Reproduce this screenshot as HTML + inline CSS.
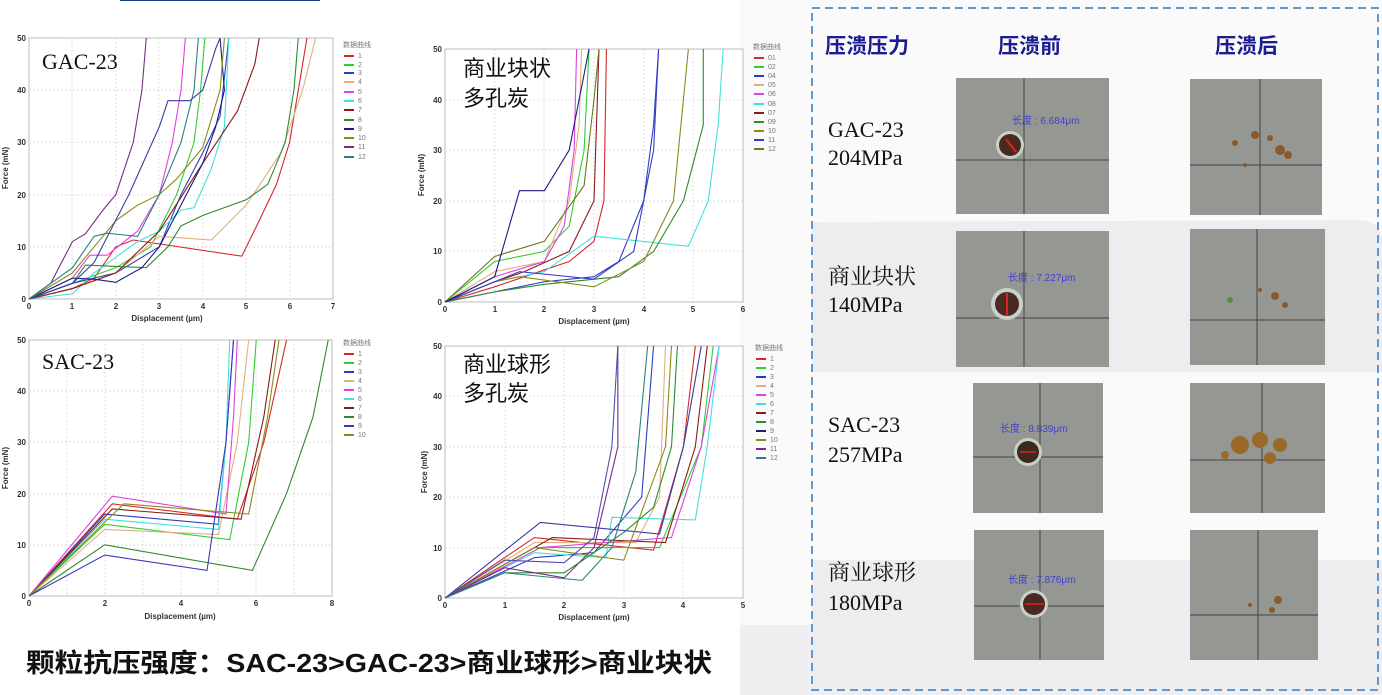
<!DOCTYPE html>
<html><head><meta charset="utf-8"><style>
body{margin:0;width:1382px;height:695px;overflow:hidden;background:#fff;font-family:"Liberation Sans","Noto Sans CJK SC",sans-serif}
svg{position:absolute;left:0;top:0}
.t{font-family:"Liberation Sans",sans-serif;font-size:8px;font-weight:bold;fill:#333}
.lg{font-family:"Liberation Sans","Noto Sans CJK SC",sans-serif;font-size:7px;fill:#777}
.g{stroke:#ddd;stroke-width:1;stroke-dasharray:2,2}
polyline{fill:none;stroke-width:1.1;vector-effect:non-scaling-stroke}
.hd{font-family:"Liberation Sans","Noto Sans CJK SC",sans-serif;font-size:21px;font-weight:bold;fill:#1c1c90}
.lb{font-family:"Liberation Serif","Noto Serif CJK SC",serif;font-size:22px;fill:#111}
</style></head><body>
<svg width="1382" height="695" viewBox="0 0 1382 695">
<rect x="740" y="0" width="642" height="695" fill="#fafafb"/>
<path d="M740,625 L1382,625 L1382,695 L740,695Z" fill="#efeff1"/>
<path d="M812,222 L1360,220 Q1382,222 1382,240 L1382,372 L812,372Z" fill="#ededef"/>
<path d="M812,560 L1382,560 L1382,690 L812,690Z" fill="#ededef"/>
<rect x="812" y="8" width="566" height="682" fill="none" stroke="#5b9bd5" stroke-width="2" stroke-dasharray="8,5"/>
<line x1="120" y1="0" x2="320" y2="0" stroke="#1c3c80" stroke-width="2"/>
<text class="hd" x="825" y="53">压溃压力</text>
<text class="hd" x="998" y="53">压溃前</text>
<text class="hd" x="1215" y="53">压溃后</text>
<text class="lb" x="828" y="137">GAC-23</text><text class="lb" x="828" y="165">204MPa</text>
<text class="lb" x="828" y="284">商业块状</text><text class="lb" x="828" y="312">140MPa</text>
<text class="lb" x="828" y="432">SAC-23</text><text class="lb" x="828" y="462">257MPa</text>
<text class="lb" x="828" y="580">商业球形</text><text class="lb" x="828" y="610">180MPa</text>
<g>
<rect x="956" y="78" width="153" height="136" fill="#959892"/><line x1="1024" y1="78" x2="1024" y2="214" stroke="#444"/><line x1="956" y1="160" x2="1109" y2="160" stroke="#444"/>
<circle cx="1010" cy="145" r="14" fill="#c8d0c8"/><circle cx="1010" cy="145" r="11" fill="#4a2a20"/><line x1="1006" y1="139" x2="1016" y2="152" stroke="#e02020" stroke-width="2"/>
<text x="1012" y="124" font-size="10" fill="#4040d0">长度 : 6.684μm</text>
<rect x="1190" y="79" width="132" height="136" fill="#959892"/><line x1="1260" y1="79" x2="1260" y2="215" stroke="#444"/><line x1="1190" y1="165" x2="1322" y2="165" stroke="#444"/>
<g fill="#8a5a2a"><circle cx="1280" cy="150" r="5"/><circle cx="1288" cy="155" r="4"/><circle cx="1255" cy="135" r="4"/><circle cx="1235" cy="143" r="3"/><circle cx="1270" cy="138" r="3"/><circle cx="1245" cy="165" r="2"/></g>
<rect x="956" y="231" width="153" height="136" fill="#959892"/><line x1="1024" y1="231" x2="1024" y2="367" stroke="#444"/><line x1="956" y1="318" x2="1109" y2="318" stroke="#444"/>
<circle cx="1007" cy="304" r="16" fill="#c8d0c8"/><circle cx="1007" cy="304" r="12" fill="#4a2a20"/><line x1="1007" y1="293" x2="1007" y2="316" stroke="#e02020" stroke-width="2"/>
<text x="1008" y="281" font-size="10" fill="#4040d0">长度 : 7.227μm</text>
<rect x="1190" y="229" width="135" height="136" fill="#959892"/><line x1="1257" y1="229" x2="1257" y2="365" stroke="#444"/><line x1="1190" y1="320" x2="1325" y2="320" stroke="#444"/>
<g fill="#8a5a2a"><circle cx="1275" cy="296" r="4"/><circle cx="1285" cy="305" r="3"/><circle cx="1230" cy="300" r="3" fill="#5a8a4a"/><circle cx="1260" cy="290" r="2"/></g>
<rect x="973" y="383" width="130" height="130" fill="#959892"/><line x1="1040" y1="383" x2="1040" y2="513" stroke="#444"/><line x1="973" y1="457" x2="1103" y2="457" stroke="#444"/>
<circle cx="1028" cy="452" r="14" fill="#c8d0c8"/><circle cx="1028" cy="452" r="11" fill="#3a2a20"/><line x1="1020" y1="452" x2="1036" y2="452" stroke="#e02020" stroke-width="1.5"/>
<text x="1000" y="432" font-size="10" fill="#4040d0">长度 : 8.839μm</text>
<rect x="1190" y="383" width="135" height="130" fill="#959892"/><line x1="1262" y1="383" x2="1262" y2="513" stroke="#444"/><line x1="1190" y1="460" x2="1325" y2="460" stroke="#444"/>
<g fill="#9a6a2a"><circle cx="1240" cy="445" r="9"/><circle cx="1260" cy="440" r="8"/><circle cx="1280" cy="445" r="7"/><circle cx="1270" cy="458" r="6"/><circle cx="1225" cy="455" r="4"/></g>
<rect x="974" y="530" width="130" height="130" fill="#959892"/><line x1="1040" y1="530" x2="1040" y2="660" stroke="#444"/><line x1="974" y1="606" x2="1104" y2="606" stroke="#444"/>
<circle cx="1034" cy="604" r="14" fill="#c8d0c8"/><circle cx="1034" cy="604" r="11" fill="#4a2a20"/><line x1="1025" y1="604" x2="1044" y2="604" stroke="#e02020" stroke-width="1.5"/>
<text x="1008" y="583" font-size="10" fill="#4040d0">长度 : 7.876μm</text>
<rect x="1190" y="530" width="128" height="130" fill="#959892"/><line x1="1258" y1="530" x2="1258" y2="660" stroke="#444"/><line x1="1190" y1="615" x2="1318" y2="615" stroke="#444"/>
<g fill="#8a5a2a"><circle cx="1278" cy="600" r="4"/><circle cx="1272" cy="610" r="3"/><circle cx="1250" cy="605" r="2"/></g>
</g>

<g>
<rect x="29" y="38" width="304" height="261" fill="#fff" stroke="#bbb"/>
<g class="g"><line x1="72" y1="38" x2="72" y2="299"/><line x1="116" y1="38" x2="116" y2="299"/><line x1="159" y1="38" x2="159" y2="299"/><line x1="203" y1="38" x2="203" y2="299"/><line x1="246" y1="38" x2="246" y2="299"/><line x1="290" y1="38" x2="290" y2="299"/>
<line x1="29" y1="90" x2="333" y2="90"/><line x1="29" y1="142" x2="333" y2="142"/><line x1="29" y1="195" x2="333" y2="195"/><line x1="29" y1="247" x2="333" y2="247"/></g>
<g class="t" text-anchor="end"><text x="26" y="41">50</text><text x="26" y="93">40</text><text x="26" y="145">30</text><text x="26" y="198">20</text><text x="26" y="250">10</text><text x="26" y="302">0</text></g>
<g class="t" text-anchor="middle"><text x="29" y="309">0</text><text x="72" y="309">1</text><text x="116" y="309">2</text><text x="159" y="309">3</text><text x="203" y="309">4</text><text x="246" y="309">5</text><text x="290" y="309">6</text><text x="333" y="309">7</text>
<text x="167" y="321">Displacement (µm)</text><text transform="translate(8,168) rotate(-90)">Force (mN)</text></g>
<text x="42" y="69" font-family="Liberation Serif,serif" font-size="22" fill="#111">GAC-23</text>
<g transform="translate(29,299) scale(43.43,-5.22)">
<polyline stroke="#d62828" points="0,0 1,2 1.5,4 2,10 2.4,11.3 4.9,8.2 5.3,15 5.7,22 6,30 6.2,40 6.4,50"/>
<polyline stroke="#33cc33" points="0,0 1,3 2,6 2.8,10 3.4,20 3.8,30 3.95,40 4.05,50"/>
<polyline stroke="#2a3fbf" points="0,0 1,3 2,5 3,10 3.5,20 4,28 4.4,35 4.6,50"/>
<polyline stroke="#e0b080" points="0,0 1,2 2,5 3,12 4.2,11.3 5,18 5.8,28 6.3,40 6.6,50"/>
<polyline stroke="#e040e0" points="0,0 1,4 1.4,8.4 1.8,8.4 2.5,13 3,20 3.3,30 3.5,40 3.6,50"/>
<polyline stroke="#40e0e0" points="0,0 1,1 1.5,5 2,8 2.5,11 3,13 3.5,17 3.8,17.5 4.2,25 4.5,33 4.6,50"/>
<polyline stroke="#8b1a1a" points="0,0 1,2 2,5 3,13 4,26 4.8,36 5.2,45 5.3,50"/>
<polyline stroke="#2e8b2e" points="0,0 1,3 1.3,6.5 2.7,6 3.2,10 3.5,14 4,16 5,19 5.5,22 5.9,30 6.1,40 6.2,50"/>
<polyline stroke="#1a1a80" points="0,0 1,4 1.5,3.8 2,3.2 2.6,6 3,10 3.5,18 4,26 4.3,33 4.5,40 4.4,50"/>
<polyline stroke="#8b8b1a" points="0,0 1,5 1.5,10 2,15 2.5,18 3,20 3.4,23 4,29 4.4,40 4.5,50"/>
<polyline stroke="#7a2a8a" points="0,0 0.5,3 1,11 1.3,12.5 1.7,17 2,20 2.4,30 2.6,40 2.7,50"/>
<polyline stroke="#3a3aa0" points="0,0 1,3 1.5,7 2.3,20 3,33 3.2,38 3.7,38 4,40 4.3,48 4.4,50"/>
<polyline stroke="#2a8080" points="0,0 1,6 1.5,12 1.8,12.6 2.5,12 3,20 3.5,30 3.8,40 3.9,50"/>
</g>
<g class="lg"><text x="343" y="47">数据曲线</text>
<text x="358" y="58">1</text><text x="358" y="67">2</text><text x="358" y="75">3</text><text x="358" y="84">4</text><text x="358" y="94">5</text><text x="358" y="103">6</text><text x="358" y="112">7</text><text x="358" y="122">8</text><text x="358" y="131">9</text><text x="358" y="140">10</text><text x="358" y="149">11</text><text x="358" y="159">12</text></g>
<g stroke-width="2"><line x1="344" y1="56" x2="354" y2="56" stroke="#d62828"/><line x1="344" y1="65" x2="354" y2="65" stroke="#33cc33"/><line x1="344" y1="73" x2="354" y2="73" stroke="#2a3fbf"/><line x1="344" y1="82" x2="354" y2="82" stroke="#e0b080"/><line x1="344" y1="92" x2="354" y2="92" stroke="#e040e0"/><line x1="344" y1="101" x2="354" y2="101" stroke="#40e0e0"/><line x1="344" y1="110" x2="354" y2="110" stroke="#8b1a1a"/><line x1="344" y1="120" x2="354" y2="120" stroke="#2e8b2e"/><line x1="344" y1="129" x2="354" y2="129" stroke="#1a1a80"/><line x1="344" y1="138" x2="354" y2="138" stroke="#8b8b1a"/><line x1="344" y1="147" x2="354" y2="147" stroke="#7a2a8a"/><line x1="344" y1="157" x2="354" y2="157" stroke="#2a8080"/></g>
</g>

<g>
<rect x="445" y="49" width="298" height="253" fill="#fff" stroke="#bbb"/>
<g class="g"><line x1="495" y1="49" x2="495" y2="302"/><line x1="544" y1="49" x2="544" y2="302"/><line x1="594" y1="49" x2="594" y2="302"/><line x1="644" y1="49" x2="644" y2="302"/><line x1="693" y1="49" x2="693" y2="302"/>
<line x1="445" y1="100" x2="743" y2="100"/><line x1="445" y1="150" x2="743" y2="150"/><line x1="445" y1="201" x2="743" y2="201"/><line x1="445" y1="251" x2="743" y2="251"/></g>
<g class="t" text-anchor="end"><text x="442" y="52">50</text><text x="442" y="103">40</text><text x="442" y="153">30</text><text x="442" y="204">20</text><text x="442" y="254">10</text><text x="442" y="305">0</text></g>
<g class="t" text-anchor="middle"><text x="445" y="312">0</text><text x="495" y="312">1</text><text x="544" y="312">2</text><text x="594" y="312">3</text><text x="644" y="312">4</text><text x="693" y="312">5</text><text x="743" y="312">6</text>
<text x="594" y="324">Displacement (µm)</text><text transform="translate(424,175) rotate(-90)">Force (mN)</text></g>
<text x="463" y="76" font-size="22" fill="#111">商业块状</text><text x="463" y="106" font-size="22" fill="#111">多孔炭</text>
<g transform="translate(445,302) scale(49.67,-5.06)">
<polyline stroke="#d62828" points="0,0 1,3 1.6,5 2.5,8 3,12 3.2,20 3.25,50"/>
<polyline stroke="#33cc33" points="0,0 1,8 2,10 2.5,15 2.8,30 2.9,50"/>
<polyline stroke="#2a3fbf" points="0,0 1,2 2,4 3,5 3.5,8 4,20 4.2,35 4.3,50"/>
<polyline stroke="#e0b080" points="0,0 1,6 2,8 2.5,20 2.7,35 2.75,50"/>
<polyline stroke="#e040e0" points="0,0 1,5 2,8 2.4,15 2.6,30 2.65,50"/>
<polyline stroke="#40e0e0" points="0,0 1,4 2,6 3,13 4.9,11 5.3,20 5.5,35 5.6,50"/>
<polyline stroke="#8b1a1a" points="0,0 1,4 1.6,6 2.5,10 3,20 3.1,50"/>
<polyline stroke="#2e8b2e" points="0,0 1,2 2,3.5 3.5,5 4.2,10 4.8,20 5.2,35 5.2,50"/>
<polyline stroke="#8b8b1a" points="0,0 1,4 1.5,5 3,3 4,8 4.6,20 4.9,50"/>
<polyline stroke="#3a3ac0" points="0,0 1,4 1.5,6 3,4.5 3.8,10 4.2,30 4.3,50"/>
<polyline stroke="#6a7a1a" points="0,0 1,9 2,12 2.8,23 3,40 3.1,50"/>
<polyline stroke="#1a1a80" points="0,0 1,5 1.5,22 2,22 2.5,30 2.8,45 2.9,50"/>
</g>
<g class="lg"><text x="753" y="49">数据曲线</text>
<text x="768" y="60">01</text><text x="768" y="69">02</text><text x="768" y="78">04</text><text x="768" y="87">05</text><text x="768" y="96">06</text><text x="768" y="106">08</text><text x="768" y="115">07</text><text x="768" y="124">09</text><text x="768" y="133">10</text><text x="768" y="142">11</text><text x="768" y="151">12</text></g>
<g stroke-width="2"><line x1="754" y1="58" x2="764" y2="58" stroke="#d62828"/><line x1="754" y1="67" x2="764" y2="67" stroke="#33cc33"/><line x1="754" y1="76" x2="764" y2="76" stroke="#2a3fbf"/><line x1="754" y1="85" x2="764" y2="85" stroke="#e0b080"/><line x1="754" y1="94" x2="764" y2="94" stroke="#e040e0"/><line x1="754" y1="104" x2="764" y2="104" stroke="#40e0e0"/><line x1="754" y1="113" x2="764" y2="113" stroke="#8b1a1a"/><line x1="754" y1="122" x2="764" y2="122" stroke="#2e8b2e"/><line x1="754" y1="131" x2="764" y2="131" stroke="#8b8b1a"/><line x1="754" y1="140" x2="764" y2="140" stroke="#3a3ac0"/><line x1="754" y1="149" x2="764" y2="149" stroke="#6a7a1a"/></g>
</g>

<g>
<rect x="29" y="340" width="303" height="256" fill="#fff" stroke="#bbb"/>
<g class="g"><line x1="67" y1="340" x2="67" y2="596"/><line x1="105" y1="340" x2="105" y2="596"/><line x1="143" y1="340" x2="143" y2="596"/><line x1="181" y1="340" x2="181" y2="596"/><line x1="218" y1="340" x2="218" y2="596"/><line x1="256" y1="340" x2="256" y2="596"/><line x1="294" y1="340" x2="294" y2="596"/>
<line x1="29" y1="391" x2="332" y2="391"/><line x1="29" y1="442" x2="332" y2="442"/><line x1="29" y1="494" x2="332" y2="494"/><line x1="29" y1="545" x2="332" y2="545"/></g>
<g class="t" text-anchor="end"><text x="26" y="343">50</text><text x="26" y="394">40</text><text x="26" y="445">30</text><text x="26" y="497">20</text><text x="26" y="548">10</text><text x="26" y="599">0</text></g>
<g class="t" text-anchor="middle"><text x="29" y="606">0</text><text x="105" y="606">2</text><text x="181" y="606">4</text><text x="256" y="606">6</text><text x="332" y="606">8</text>
<text x="180" y="619">Displacement (µm)</text><text transform="translate(8,468) rotate(-90)">Force (mN)</text></g>
<text x="42" y="369" font-family="Liberation Serif,serif" font-size="22" fill="#111">SAC-23</text>
<g transform="translate(29,596) scale(37.875,-5.12)">
<polyline stroke="#d62828" points="0,0 2.2,18 5.5,15 6.2,30 6.8,50"/>
<polyline stroke="#33cc33" points="0,0 2,14 5.3,11 5.8,30 6,50"/>
<polyline stroke="#2a3fbf" points="0,0 2,16 5,14 5.2,30 5.4,50"/>
<polyline stroke="#e0b080" points="0,0 2,13 5,12 5.5,30 5.8,50"/>
<polyline stroke="#e040e0" points="0,0 2.2,19.5 5.2,16 5.4,35 5.5,50"/>
<polyline stroke="#40e0e0" points="0,0 2,15 5,13 5.2,30 5.3,50"/>
<polyline stroke="#8b1a1a" points="0,0 2.2,17 5.6,15 6.2,35 6.5,50"/>
<polyline stroke="#2e8b2e" points="0,0 2,10 5.9,5 6.8,20 7.5,35 7.9,50"/>
<polyline stroke="#3a3ac0" points="0,0 2,8 4.7,5 5.2,30 5.4,50"/>
<polyline stroke="#8b8b1a" points="0,0 2.5,18 5.8,16 6.3,35 6.6,50"/>
</g>
<g class="lg"><text x="343" y="345">数据曲线</text>
<text x="358" y="356">1</text><text x="358" y="365">2</text><text x="358" y="374">3</text><text x="358" y="383">4</text><text x="358" y="392">5</text><text x="358" y="401">6</text><text x="358" y="410">7</text><text x="358" y="419">8</text><text x="358" y="428">9</text><text x="358" y="437">10</text></g>
<g stroke-width="2"><line x1="344" y1="354" x2="354" y2="354" stroke="#d62828"/><line x1="344" y1="363" x2="354" y2="363" stroke="#33cc33"/><line x1="344" y1="372" x2="354" y2="372" stroke="#2a3fbf"/><line x1="344" y1="381" x2="354" y2="381" stroke="#e0b080"/><line x1="344" y1="390" x2="354" y2="390" stroke="#e040e0"/><line x1="344" y1="399" x2="354" y2="399" stroke="#40e0e0"/><line x1="344" y1="408" x2="354" y2="408" stroke="#8b1a1a"/><line x1="344" y1="417" x2="354" y2="417" stroke="#2e8b2e"/><line x1="344" y1="426" x2="354" y2="426" stroke="#3a3ac0"/><line x1="344" y1="435" x2="354" y2="435" stroke="#8b8b1a"/></g>
</g>

<g>
<rect x="445" y="346" width="298" height="252" fill="#fff" stroke="#bbb"/>
<g class="g"><line x1="505" y1="346" x2="505" y2="598"/><line x1="564" y1="346" x2="564" y2="598"/><line x1="624" y1="346" x2="624" y2="598"/><line x1="683" y1="346" x2="683" y2="598"/>
<line x1="445" y1="396" x2="743" y2="396"/><line x1="445" y1="447" x2="743" y2="447"/><line x1="445" y1="497" x2="743" y2="497"/><line x1="445" y1="548" x2="743" y2="548"/></g>
<g class="t" text-anchor="end"><text x="442" y="349">50</text><text x="442" y="399">40</text><text x="442" y="450">30</text><text x="442" y="500">20</text><text x="442" y="551">10</text><text x="442" y="601">0</text></g>
<g class="t" text-anchor="middle"><text x="445" y="608">0</text><text x="505" y="608">1</text><text x="564" y="608">2</text><text x="624" y="608">3</text><text x="683" y="608">4</text><text x="743" y="608">5</text>
<text x="594" y="620">Displacement (µm)</text><text transform="translate(427,472) rotate(-90)">Force (mN)</text></g>
<text x="463" y="372" font-size="22" fill="#111">商业球形</text><text x="463" y="401" font-size="22" fill="#111">多孔炭</text>
<g transform="translate(445,598) scale(59.6,-5.04)">
<polyline stroke="#d62828" points="0,0 1.5,12 3.5,9.5 4,30 4.2,50"/>
<polyline stroke="#33cc33" points="0,0 1.5,10 3.6,10 4.3,30 4.5,50"/>
<polyline stroke="#2a3fbf" points="0,0 1.5,8 2.5,9 3.3,20 3.5,50"/>
<polyline stroke="#e0b080" points="0,0 1.5,11 3.2,11 3.6,20 3.7,50"/>
<polyline stroke="#e040e0" points="0,0 1.6,10 3.8,12 4.3,30 4.6,50"/>
<polyline stroke="#40e0e0" points="0,0 1.5,9 2.7,8 2.8,16 4.2,15.5 4.4,30 4.6,50"/>
<polyline stroke="#8b1a1a" points="0,0 1.8,12 3.7,11 4.2,30 4.4,50"/>
<polyline stroke="#2e8b2e" points="0,0 1,5 2,5 3,13 3.5,18 3.8,30 3.9,50"/>
<polyline stroke="#3a3aa0" points="0,0 1.6,15 3.6,12.7 4,30 4.3,50"/>
<polyline stroke="#8b8b1a" points="0,0 1.5,10 3,7.5 3.7,30 3.8,50"/>
<polyline stroke="#7a2a8a" points="0,0 1,6 2,4 2.5,10 2.9,30 2.9,50"/>
<polyline stroke="#5050b0" points="0,0 1,7.5 2,7 2.5,12 2.8,30 2.9,50"/>
<polyline stroke="#2a8080" points="0,0 1,5 2.3,3.5 2.8,10 3.2,25 3.4,50"/>
</g>
<g class="lg"><text x="755" y="350">数据曲线</text>
<text x="770" y="361">1</text><text x="770" y="370">2</text><text x="770" y="379">3</text><text x="770" y="388">4</text><text x="770" y="397">5</text><text x="770" y="406">6</text><text x="770" y="415">7</text><text x="770" y="424">8</text><text x="770" y="433">9</text><text x="770" y="442">10</text><text x="770" y="451">11</text><text x="770" y="460">12</text></g>
<g stroke-width="2"><line x1="756" y1="359" x2="766" y2="359" stroke="#d62828"/><line x1="756" y1="368" x2="766" y2="368" stroke="#33cc33"/><line x1="756" y1="377" x2="766" y2="377" stroke="#2a3fbf"/><line x1="756" y1="386" x2="766" y2="386" stroke="#e0b080"/><line x1="756" y1="395" x2="766" y2="395" stroke="#e040e0"/><line x1="756" y1="404" x2="766" y2="404" stroke="#40e0e0"/><line x1="756" y1="413" x2="766" y2="413" stroke="#8b1a1a"/><line x1="756" y1="422" x2="766" y2="422" stroke="#2e8b2e"/><line x1="756" y1="431" x2="766" y2="431" stroke="#1a1a80"/><line x1="756" y1="440" x2="766" y2="440" stroke="#8b8b1a"/><line x1="756" y1="449" x2="766" y2="449" stroke="#7a2a8a"/><line x1="756" y1="458" x2="766" y2="458" stroke="#2a8080"/></g>
</g>

<text x="26" y="672" font-family="Liberation Sans,Noto Sans CJK SC,sans-serif" font-size="26" font-weight="bold" fill="#111" textLength="686" lengthAdjust="spacingAndGlyphs">颗粒抗压强度：SAC-23&gt;GAC-23&gt;商业球形&gt;商业块状</text>
</svg>
</body></html>
